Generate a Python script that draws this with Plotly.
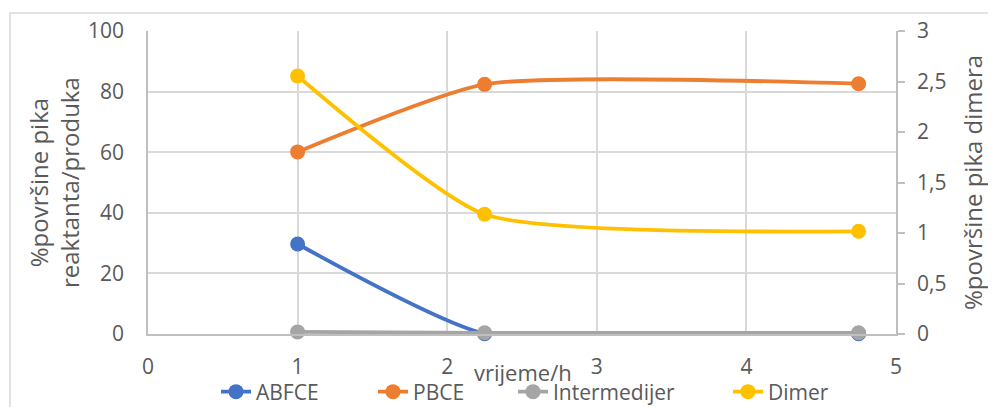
import plotly.graph_objects as go

# Data
time_h = [1, 2.25, 4.75]
abfce = [29.7, 0.1, 0.1]
pbce = [60.1, 82.4, 82.6]
intermedijer = [0.7, 0.4, 0.4]
dimer = [2.555, 1.185, 1.017]

series_names = ["ABFCE", "PBCE", "Intermedijer", "Dimer"]
colors = ["#4472C4", "#ED7D31", "#A5A5A5", "#FFC000"]

FONT = "Open Sans"
TXT = "#595959"

# page is rendered with the default 8px body margin
OFF = 8
PW, PH = 996, 407            # page size
PL, PR, PT, PB = 148, 896, 31, 334   # plot area edges in page pixels
W, H = PW - OFF, PH - OFF
L, T = PL - OFF, PT - OFF
R = PW - PR
B = PH - PB
pw, ph = PR - PL, PB - PT

def px(x):
    return (x - PL) / pw

def py(y):
    return (PB - y) / ph

legend_ids = ["legend", "legend2", "legend3", "legend4"]
legend_text_x = [258, 415, 555, 770]

fig = go.Figure()
for i, (name, vals, col, ax) in enumerate([
    (series_names[0], abfce, colors[0], "y"),
    (series_names[1], pbce, colors[1], "y"),
    (series_names[2], intermedijer, colors[2], "y"),
    (series_names[3], dimer, colors[3], "y2"),
]):
    fig.add_trace(go.Scatter(
        x=time_h, y=vals, name=name, yaxis=ax, legend=legend_ids[i],
        mode="lines+markers",
        line=dict(color=col, width=3.8, shape="spline", smoothing=0.55),
        marker=dict(color=col, size=15),
        cliponaxis=False,
    ))

layout_legends = {}
for lid, tx in zip(legend_ids, legend_text_x):
    layout_legends[lid] = dict(
        orientation="h", x=px(tx - 42), y=py(392), xanchor="left", yanchor="middle",
        font=dict(family=FONT, size=21, color=TXT), bgcolor="rgba(0,0,0,0)",
    )

fig.update_layout(
    width=W, height=H,
    margin=dict(l=L, r=R, t=T, b=B, autoexpand=False),
    paper_bgcolor="white", plot_bgcolor="white",
    separators=", ",
    font=dict(family=FONT, color=TXT, size=21),
    showlegend=True,
    **layout_legends,
    xaxis=dict(
        range=[0, 5], dtick=1, tick0=0, automargin=False,
        showgrid=True, gridcolor="#D9D9D9", gridwidth=1.5,
        showline=True, linecolor="#BFBFBF", linewidth=1.5,
        zeroline=False, ticks="", ticklabelstandoff=13,
        tickfont=dict(size=21, color=TXT, family=FONT),
    ),
    yaxis=dict(
        range=[0, 100], dtick=20, tick0=0, automargin=False,
        showgrid=True, gridcolor="#D9D9D9", gridwidth=1.5,
        showline=True, linecolor="#BFBFBF", linewidth=1.5,
        zeroline=False, ticks="", ticklabelstandoff=18,
        tickfont=dict(size=21, color=TXT, family=FONT),
    ),
    yaxis2=dict(
        range=[0, 3], dtick=0.5, tick0=0, overlaying="y", side="right", automargin=False,
        showgrid=False, showline=True, linecolor="#BFBFBF", linewidth=1.5,
        zeroline=False, ticks="outside", ticklen=7, tickcolor="#BFBFBF", tickwidth=1.5,
        ticklabelstandoff=8,
        tickfont=dict(size=21, color=TXT, family=FONT),
    ),
)

# Axis titles as annotations
fig.add_annotation(text="vrijeme/h", x=px(523), y=py(372), xref="paper", yref="paper",
                   showarrow=False, xanchor="center", yanchor="middle",
                   font=dict(family=FONT, size=22, color=TXT))
fig.add_annotation(text="%površine pika<br>reaktanta/produka", x=px(54), y=py(183),
                   xref="paper", yref="paper", textangle=-90, showarrow=False,
                   xanchor="center", yanchor="middle",
                   font=dict(family=FONT, size=24, color=TXT))
fig.add_annotation(text="%površine pika dimera", x=px(972), y=py(183),
                   xref="paper", yref="paper", textangle=-90, showarrow=False,
                   xanchor="center", yanchor="middle",
                   font=dict(family=FONT, size=24, color=TXT))

# Chart outer border
fig.add_shape(type="rect", xref="paper", yref="paper",
              x0=px(10), y0=py(430), x1=px(1010), y1=py(13),
              line=dict(color="#D9D9D9", width=1.5), fillcolor="rgba(0,0,0,0)", layer="below")

fig.write_html("out.html")
